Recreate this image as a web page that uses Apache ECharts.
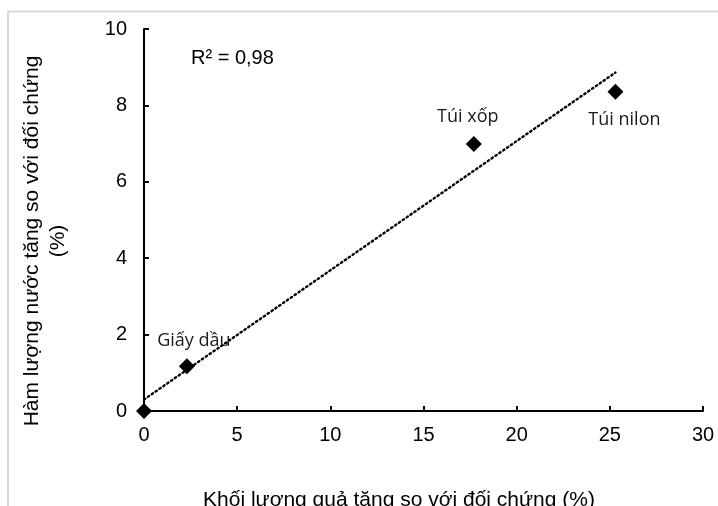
<!DOCTYPE html>
<html>
<head>
<meta charset="utf-8">
<script src="https://cdn.jsdelivr.net/npm/echarts@6/dist/echarts.min.js"></script>
<style>
  html, body { margin: 0; padding: 0; background: #fff; }
  #chart { width: 718px; height: 506px; }
</style>
</head>
<body>
<div id="chart"></div>
<script>
// số liệu
const names = ['', 'Giấy dầu', 'Túi xốp', 'Túi nilon']
const xValues = [0, 2.3, 17.7, 25.3]
const yValues = [0, 1.17, 6.99, 8.36]
// đường xu hướng (hai đầu mút)
const trendX = [0, 25.3]
const trendY = [0.3, 8.86]
const xTicks = [0, 5, 10, 15, 20, 25, 30]
const yTicks = [0, 2, 4, 6, 8, 10]

// vị trí nhãn cho từng điểm
const labelPos = [
  null,
  { position: 'top', offset: [7, -3] },
  { position: 'top', offset: [-6, -5] },
  { position: 'bottom', offset: [9, 6] },
]

const axisFont = { fontFamily: 'Liberation Sans, Arial', fontSize: 20, color: '#000' }

const points = xValues.map((x, i) => ({
  value: [x, yValues[i]],
  name: names[i],
  label: labelPos[i] ? { show: true, ...labelPos[i] } : { show: false },
}))

const chart = echarts.init(document.getElementById('chart'))
chart.setOption({
  animation: false,
  grid: { left: 144, top: 29, right: 15, bottom: 95 },
  xAxis: {
    type: 'value',
    min: xTicks[0],
    max: xTicks[xTicks.length - 1],
    interval: 5,
    splitLine: { show: false },
    axisLine: { lineStyle: { color: '#000', width: 2 } },
    axisTick: { inside: true, length: 5, lineStyle: { color: '#000', width: 2 } },
    axisLabel: { ...axisFont, margin: 14 },
  },
  yAxis: {
    type: 'value',
    min: yTicks[0],
    max: yTicks[yTicks.length - 1],
    interval: 2,
    splitLine: { show: false },
    axisLine: { show: true, lineStyle: { color: '#000', width: 2 } },
    axisTick: { show: true, inside: true, length: 5, lineStyle: { color: '#000', width: 2 } },
    axisLabel: { ...axisFont, margin: 17 },
  },
  graphic: [
    // khung ngoài màu xám
    { type: 'polyline', shape: { points: [[8, 506], [8, 11.5], [718, 11.5]] }, style: { stroke: '#d9d9d9', lineWidth: 2, fill: null } },
    { type: 'text', left: 191, top: 48, style: { text: 'R² = 0,98', font: '20px "Liberation Sans", Arial', fill: '#000' } },
    {
      type: 'text', x: 45, y: 241, rotation: Math.PI / 2,
      style: {
        text: 'Hàm lượng nước tăng so với đối chứng\n(%)',
        font: '21px "Liberation Sans", Arial', fill: '#000',
        align: 'center', verticalAlign: 'middle', lineHeight: 26,
      },
    },
    {
      type: 'text', x: 399, y: 500,
      style: {
        text: 'Khối lượng quả tăng so với đối chứng (%)',
        font: '21px "Liberation Sans", Arial', fill: '#000',
        align: 'center', verticalAlign: 'middle',
      },
    },
  ],
  series: [
    {
      type: 'line',
      data: trendX.map((x, i) => [x, trendY[i]]),
      symbol: 'none',
      lineStyle: { color: '#000', width: 2.4, type: [1.5, 3.2], cap: 'round' },
      z: 2,
    },
    {
      type: 'scatter',
      data: points,
      symbol: 'diamond',
      symbolSize: 16,
      itemStyle: { color: '#000', opacity: 1 },
      label: {
        formatter: '{b}',
        fontFamily: 'Open Sans',
        fontSize: 18,
        color: '#1a1a1a',
      },
      z: 3,
    },
  ],
})
</script>
</body>
</html>
